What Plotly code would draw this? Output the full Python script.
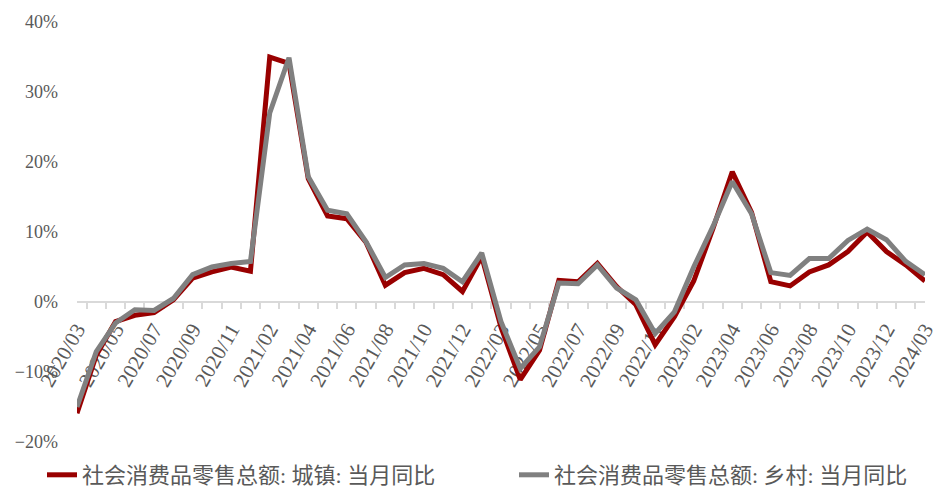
import plotly.graph_objects as go

categories = [
    "2020/03", "2020/04", "2020/05", "2020/06", "2020/07", "2020/08", "2020/09", "2020/10", "2020/11", "2020/12",
    "2021/02", "2021/03", "2021/04", "2021/05", "2021/06", "2021/07", "2021/08", "2021/09", "2021/10", "2021/11", "2021/12",
    "2022/02", "2022/03", "2022/04", "2022/05", "2022/06", "2022/07", "2022/08", "2022/09", "2022/10", "2022/11", "2022/12",
    "2023/02", "2023/03", "2023/04", "2023/05", "2023/06", "2023/07", "2023/08", "2023/09", "2023/10", "2023/11", "2023/12",
    "2024/02", "2024/03",
]

urban = [
    -15.9, -7.6, -2.8, -1.9, -1.5, 0.3, 3.4, 4.3, 5.0, 4.4,
    35.0, 34.1, 17.6, 12.3, 11.9, 8.5, 2.4, 4.2, 4.8, 3.9, 1.5,
    6.5, -3.6, -11.1, -6.9, 3.1, 2.9, 5.5, 2.2, -0.4, -6.1, -2.1,
    3.0, 10.5, 18.6, 12.8, 2.9, 2.3, 4.3, 5.3, 7.2, 10.0, 7.2,
    5.3, 3.0,
]

rural = [
    -15.0, -7.1, -3.0, -1.1, -1.2, 0.5, 3.9, 5.0, 5.5, 5.8,
    27.0, 34.9, 17.9, 13.1, 12.6, 8.6, 3.5, 5.3, 5.5, 4.8, 2.9,
    7.0, -2.8, -9.5, -6.4, 2.7, 2.6, 5.3, 2.0, 0.3, -4.5, -1.4,
    5.0, 10.8, 17.2, 12.6, 4.2, 3.8, 6.2, 6.2, 8.8, 10.4, 8.9,
    5.8, 3.9,
]

labeled_ticks = [
    "2020/03", "2020/05", "2020/07", "2020/09", "2020/11",
    "2021/02", "2021/04", "2021/06", "2021/08", "2021/10", "2021/12",
    "2022/03", "2022/05", "2022/07", "2022/09", "2022/11",
    "2023/02", "2023/04", "2023/06", "2023/08", "2023/10", "2023/12",
    "2024/03",
]

y_ticks = [-20, -10, 0, 10, 20, 30, 40]
y_tick_text = ["\u221220%", "\u221210%", "0%", "10%", "20%", "30%", "40%"]

name_urban = "社会消费品零售总额: 城镇: 当月同比"
name_rural = "社会消费品零售总额: 乡村: 当月同比"

serif = "Liberation Serif, Noto Serif, Noto Sans CJK SC, serif"
text_color = "#595959"

# the page body has an 8px margin, so the figure is sized/positioned to compensate
W, H = 933, 482

fig = go.Figure()
fig.add_trace(go.Scatter(x=categories, y=urban, mode="lines", name=name_urban,
                         line=dict(color="#990000", width=5), legend="legend"))
fig.add_trace(go.Scatter(x=categories, y=rural, mode="lines", name=name_rural,
                         line=dict(color="#808080", width=5), legend="legend2"))

legend_common = dict(orientation="h", xref="container", yref="container",
                     y=1 - 467 / H, yanchor="middle", xanchor="left",
                     font=dict(family=serif, size=22, color=text_color),
                     itemwidth=30, bgcolor="rgba(0,0,0,0)")

fig.update_layout(
    width=W, height=H,
    margin=dict(l=69, r=16, t=14, b=48, autoexpand=False),
    paper_bgcolor="white", plot_bgcolor="white",
    font=dict(family=serif, color=text_color, size=18),
    showlegend=True,
    legend=dict(x=34 / W, **legend_common),
    legend2=dict(x=506 / W, **legend_common),
    xaxis=dict(
        type="category",
        categoryorder="array", categoryarray=categories,
        tickmode="array", tickvals=categories,
        ticktext=[c if c in labeled_ticks else "" for c in categories],
        tickson="boundaries",
        tickangle=-60,
        ticks="outside", ticklen=6, tickwidth=2, tickcolor="#d9d9d9",
        showline=True, linecolor="#d9d9d9", linewidth=2,
        showgrid=False, zeroline=False,
        anchor="free", position=(0 - (-20)) / 60.0,
        layer="below traces",
        automargin=False,
        ticklabelstandoff=6,
        tickfont=dict(family=serif, size=21, color=text_color),
    ),
    yaxis=dict(
        range=[-20, 40],
        tickmode="array", tickvals=y_ticks, ticktext=y_tick_text,
        showgrid=False, zeroline=False, showline=False,
        ticks="", ticklabelstandoff=18,
        automargin=False,
        tickfont=dict(family=serif, size=18, color=text_color),
    ),
)

fig.write_html("out.html")
